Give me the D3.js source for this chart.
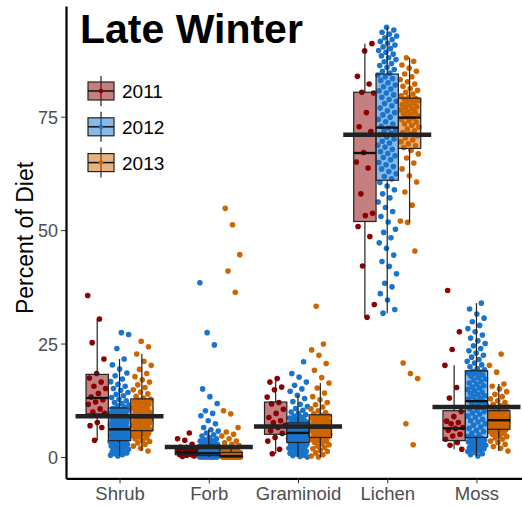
<!DOCTYPE html>
<html>
<head>
<meta charset="utf-8">
<script src="https://cdn.jsdelivr.net/npm/d3@7"></script>
<style>
  body { margin: 0; background: #fff; }
  svg { display: block; }
</style>
</head>
<body>
<div id="chart"></div>
<script>
const categories = ["Shrub", "Forb", "Graminoid", "Lichen", "Moss"];
const years = ["2011", "2012", "2013"];
const pointColors = ["#8B0000", "#1874CD", "#CD6600"];
const yTicks = [0, 25, 50, 75];

// percent of diet, one value per sample
const shrub2011 = [35.6, 30.4, 25.2, 21.6, 18.4, 17.4, 16.5, 15.6, 15.1, 14.0, 13.2, 12.6, 12.1, 11.6, 10.6, 9.9, 9.6, 7.6, 6.9, 6.5, 3.7];
const shrub2012 = [0.2, 0.4, 0.5, 0.7, 0.9, 1.1, 1.2, 1.4, 1.6, 1.7, 1.9, 2.0, 2.2, 2.3, 2.4, 2.4, 2.7, 2.8, 2.9, 3.0, 3.1, 3.1, 3.3, 3.4, 3.5,
  3.7, 3.8, 3.8, 4.0, 4.1, 4.2, 4.3, 4.4, 4.4, 4.6, 4.7, 4.8, 4.9, 5.0, 5.0, 5.2, 5.3, 5.3, 5.4, 5.5, 5.6, 5.7, 5.8, 5.9, 6.0,
  6.2, 6.4, 6.5, 6.7, 6.9, 7.0, 7.1, 7.3, 7.4, 7.6, 7.9, 8.0, 8.2, 8.5, 8.6, 8.9, 9.1, 9.3, 9.4, 9.7, 9.9, 10.1, 10.3, 10.5, 10.7,
  11.0, 11.3, 11.5, 11.8, 12.0, 12.4, 12.7, 13.1, 13.5, 13.8, 14.2, 14.7, 15.1, 15.6, 16.0, 16.6, 17.2, 17.9, 18.5, 19.4, 20.3, 21.6, 23.9, 27.0, 27.4];
const shrub2013 = [1.3, 1.9, 2.4, 2.8, 3.1, 3.4, 3.7, 4.0, 4.2, 4.4, 4.7, 4.9, 5.0, 5.2, 5.4, 5.6, 5.7,
  5.9, 6.0, 6.2, 6.4, 6.5, 6.7, 6.9, 7.0, 7.2, 7.4, 7.6, 7.8, 7.9, 8.1, 8.3, 8.4, 8.6, 8.7,
  8.9, 9.1, 9.3, 9.6, 9.8, 10.0, 10.2, 10.5, 10.7, 10.9, 11.2, 11.4, 11.6, 11.9, 12.1, 12.3, 12.5, 12.7,
  13.0, 13.4, 13.9, 14.3, 14.8, 15.3, 15.9, 16.5, 17.0, 17.7, 18.4, 19.3, 20.2, 21.1, 22.7, 24.3, 25.5];

const forb2011 = [0.1, 0.2, 0.4, 0.5, 0.5, 0.6, 0.8, 0.9, 1.0, 1.0, 1.1, 1.3, 1.5, 1.6, 1.7, 1.8, 2.2, 2.8, 3.7, 4.0, 5.3];
const forb2012 = [0, 0, 0, 0, 0, 0, 0, 0, 0, 0.1, 0.1, 0.1, 0.1, 0.2, 0.2, 0.2, 0.2, 0.2, 0.3, 0.3, 0.3, 0.3, 0.3, 0.4, 0.4,
  0.4, 0.5, 0.5, 0.5, 0.5, 0.5, 0.6, 0.6, 0.6, 0.6, 0.6, 0.7, 0.7, 0.7, 0.7, 0.7, 0.8, 0.8, 0.8, 0.9, 0.9, 1.0, 1.0, 1.1, 1.2,
  1.2, 1.3, 1.3, 1.4, 1.5, 1.6, 1.7, 1.8, 1.9, 2.0, 2.0, 2.1, 2.2, 2.3, 2.4, 2.5, 2.5, 2.6, 2.6, 2.7,
  2.8, 2.9, 3.0, 3.2, 3.3, 3.5, 3.6, 3.8, 4.0, 4.3, 4.6, 4.9, 5.3, 5.7, 6.0, 6.5, 7.3, 8.0, 9.1, 9.6, 10.2, 11.8, 13.3, 15.0, 24.7, 27.4, 38.4];
const forb2013 = [0, 0, 0, 0, 0, 0, 0, 0, 0, 0, 0, 0, 0, 0, 0, 0, 0, 0, 0.1, 0.1, 0.1, 0.1, 0.2, 0.2, 0.2, 0.2, 0.3, 0.3, 0.4, 0.4,
  0.5, 0.5, 0.6, 0.7, 0.8, 0.9, 1.0, 1.0, 1.1, 1.3, 1.4, 1.6, 1.7, 1.9, 2.1, 2.5, 2.8, 3.1, 3.5, 4.0, 4.6, 5.0, 5.5, 6.5,
  9.5, 10.2, 36.3, 41.0, 44.6, 51.2, 54.8];

const graminoid2011 = [17.3, 16.5, 15.4, 14.8, 13.2, 12.0, 11.7, 10.5, 9.6, 8.7, 8.0, 7.6, 7.0, 6.5, 5.8, 5.2, 4.3, 3.5, 1.7, 0.7];
const graminoid2012 = [0.0, 0.1, 0.3, 0.4, 0.6, 0.8, 0.9, 1.1, 1.2, 1.4, 1.5, 1.7, 1.8, 1.9, 2.0, 2.2, 2.3, 2.4, 2.5, 2.6, 2.7, 2.8, 2.9, 3.0, 3.1,
  3.3, 3.4, 3.5, 3.5, 3.6, 3.7, 3.8, 3.9, 4.0, 4.1, 4.2, 4.3, 4.3, 4.4, 4.5, 4.6, 4.7, 4.8, 4.9, 4.9, 5.0, 5.1, 5.1, 5.2, 5.3,
  5.4, 5.5, 5.5, 5.6, 5.7, 5.8, 5.9, 6.0, 6.1, 6.2, 6.3, 6.3, 6.4, 6.5, 6.6, 6.7, 6.8, 6.9, 7.0, 7.0, 7.1, 7.2, 7.3, 7.4, 7.5,
  7.6, 7.7, 7.9, 8.0, 8.2, 8.4, 8.6, 8.8, 9.0, 9.3, 9.6, 9.9, 10.3, 10.7, 11.1, 11.6, 12.2, 12.9, 13.6, 14.5, 15.0, 15.8, 16.5, 17.6, 18.4, 21.0];
const graminoid2013 = [0.0, 0.2, 0.5, 0.9, 1.2, 1.5, 1.8, 2.1, 2.4, 2.7, 2.9, 3.2, 3.4, 3.6, 3.8, 4.0, 4.2,
  4.4, 4.5, 4.6, 4.8, 4.9, 5.0, 5.2, 5.3, 5.4, 5.6, 5.7, 5.8, 5.9, 6.0, 6.1, 6.2, 6.3, 6.4,
  6.6, 6.7, 6.9, 7.0, 7.2, 7.4, 7.5, 7.7, 7.8, 8.0, 8.2, 8.3, 8.5, 8.6, 8.8, 8.9, 9.1, 9.2,
  9.5, 9.8, 10.2, 10.6, 11.0, 11.5, 12.0, 12.6, 13.3, 14.1, 15.2, 16.3, 17.5, 19.1, 20.6, 22.4, 23.6, 24.9, 33.2];

const lichen2011 = [91.1, 89.5, 83.9, 82.2, 80.4, 80.2, 75.9, 72.8, 71.7, 67.1, 65.0, 63.7, 58.0, 53.7, 53.2, 50.8, 48.6, 42.1, 33.6, 30.8];
const lichen2012 = [31.7, 32.5, 34.6, 36.0, 37.5, 38.3, 40.4, 42.0, 43.1, 44.5, 46.0, 47.2, 48.3, 49.5, 50.2, 51.8, 53.0, 54.1, 55.0, 56.2, 57.1, 58.0, 58.9, 59.7, 60.5,
  61.3, 61.8, 62.4, 62.9, 63.5, 64.0, 64.4, 64.9, 65.5, 66.0, 66.4, 66.9, 67.3, 67.8, 68.3, 68.7, 69.2, 69.6, 70.1, 70.5, 71.0, 71.4, 71.8, 72.1, 72.5,
  72.9, 73.4, 73.9, 74.4, 74.9, 75.4, 75.9, 76.3, 76.9, 77.4, 77.9, 78.4, 78.8, 79.3, 79.8, 80.2, 80.7, 81.1, 81.6, 82.0, 82.5, 83.0, 83.4, 83.8, 84.2,
  84.6, 85.0, 85.4, 85.9, 86.3, 86.7, 87.1, 87.6, 88.0, 88.4, 88.8, 89.2, 89.6, 90.0, 90.4, 90.8, 91.2, 91.6, 92.0, 92.4, 92.8, 93.2, 93.6, 94.1, 94.7];
const lichen2013 = [2.7, 7.3, 17.3, 18.4, 20.7, 45.4, 51.7, 52.0, 55.5, 58.4, 60.6, 62.0, 63.5, 64.8, 65.9, 66.8, 67.6,
  68.2, 68.6, 69.0, 69.5, 69.9, 70.3, 70.8, 71.2, 71.5, 71.9, 72.3, 72.7, 73.1, 73.4, 73.8, 74.1, 74.4, 74.7,
  75.0, 75.2, 75.5, 75.7, 76.0, 76.2, 76.5, 76.7, 77.0, 77.2, 77.5, 77.7, 78.0, 78.2, 78.5, 78.7, 78.9, 79.0,
  79.3, 79.6, 80.0, 80.4, 80.8, 81.2, 81.7, 82.2, 82.7, 83.2, 83.8, 84.4, 85.0, 85.7, 86.4, 87.2, 88.0];

const moss2011 = [36.7, 27.6, 23.7, 20.2, 15.3, 13.0, 10.0, 8.9, 7.9, 7.6, 7.3, 6.5, 6.3, 5.9, 5.0, 4.6, 3.9, 3.2, 2.6, 1.7];
const moss2012 = [0.2, 0.5, 0.7, 1.0, 1.2, 1.4, 1.6, 1.8, 2.0, 2.1, 2.3, 2.5, 2.6, 2.8, 2.9, 3.1, 3.2, 3.3, 3.5, 3.6, 3.7, 3.9, 4.0, 4.1, 4.2,
  4.5, 4.9, 5.2, 5.6, 5.9, 6.3, 6.6, 7.0, 7.3, 7.7, 8.0, 8.3, 8.7, 9.0, 9.4, 9.7, 10.0, 10.3, 10.6, 10.9, 11.2, 11.5, 11.8, 12.0, 12.2,
  12.5, 12.8, 13.0, 13.3, 13.5, 13.8, 14.1, 14.3, 14.6, 14.9, 15.2, 15.4, 15.7, 16.0, 16.3, 16.6, 16.9, 17.2, 17.5, 17.8, 18.0, 18.3, 18.5, 18.7, 18.9,
  19.2, 19.5, 19.9, 20.3, 20.7, 21.1, 21.5, 22.0, 22.4, 22.9, 23.4, 23.9, 24.5, 25.0, 25.6, 26.2, 26.9, 27.6, 28.3, 29.0, 29.8, 30.6, 31.5, 32.6, 33.9];
const moss2013 = [1.3, 1.9, 2.3, 2.8, 3.2, 3.5, 3.9, 4.2, 4.5, 4.7, 5.0, 5.2, 5.4, 5.6, 5.8, 5.9, 6.0,
  6.2, 6.3, 6.4, 6.5, 6.6, 6.8, 6.9, 7.0, 7.1, 7.2, 7.3, 7.4, 7.5, 7.6, 7.7, 7.8, 7.9, 8.0,
  8.2, 8.3, 8.4, 8.6, 8.7, 8.8, 8.9, 9.0, 9.2, 9.3, 9.4, 9.5, 9.6, 9.8, 9.9, 10.0, 10.1, 10.2,
  10.4, 10.7, 11.0, 11.3, 11.6, 12.0, 12.4, 12.8, 13.3, 13.8, 14.4, 15.0, 15.6, 16.1, 18.7, 20.2, 22.7];

// box stats per category: [whisker low, q1, median, q3, whisker high]
const box2011 = [[3.7, 9.5, 13.0, 18.2, 30.4], [0.1, 0.5, 1.0, 1.7, 2.8], [0.7, 5.0, 6.8, 12.1, 17.3], [30.8, 51.9, 67.0, 80.4, 91.1], [1.7, 3.6, 6.3, 10.2, 20.2]];
const box2012 = [[0.2, 3.6, 6.1, 10.8, 21.6], [0.0, 0.3, 0.8, 2.6, 6.0], [0.0, 3.2, 5.3, 7.5, 13.6], [31.7, 61.0, 72.6, 84.4, 94.7], [0.2, 4.3, 12.3, 19.0, 33.9]];
const box2013 = [[1.3, 5.8, 8.8, 12.8, 22.7], [0.0, 0.0, 0.2, 1.0, 2.1], [0.0, 4.3, 6.5, 9.3, 16.3], [51.7, 68.0, 74.8, 79.1, 88.0], [1.3, 6.1, 8.1, 10.2, 16.1]];
// median of all years together
const overallMedian = [9.0, 2.2, 6.7, 71.0, 11.0];

const points = [
  [shrub2011, forb2011, graminoid2011, lichen2011, moss2011],
  [shrub2012, forb2012, graminoid2012, lichen2012, moss2012],
  [shrub2013, forb2013, graminoid2013, lichen2013, moss2013]
];
const boxes = [box2011, box2012, box2013];

const width = 522, height = 506;
const font = "'Liberation Sans', Arial, sans-serif";

const svg = d3.select("#chart").append("svg")
    .attr("width", width)
    .attr("height", height);

const x = d3.scalePoint()
    .domain(categories)
    .range([66, 530])
    .padding(0.6);

const y = d3.scaleLinear()
    .domain([-4.7, 99.4])
    .range([478.3, 6]);

const dodge = d3.scaleBand()
    .domain(years)
    .range([-33.5, 33.5]);
const boxW = dodge.bandwidth();
const jitterW = 9.5;

// jittered points
points.forEach(function(yearSeries, yi) {
  yearSeries.forEach(function(vals, ci) {
    const cx = x(categories[ci]) + dodge(years[yi]) + boxW / 2;
    svg.append("g").selectAll("circle")
      .data(vals)
      .enter().append("circle")
      .attr("cx", function(d, i) { return cx + (((i * 0.618034 + ci * 0.29 + yi * 0.41) % 1) - 0.5) * 2 * jitterW; })
      .attr("cy", function(d) { return y(d); })
      .attr("r", 2.8)
      .attr("fill", pointColors[yi]);
  });
});

// boxplots
boxes.forEach(function(stats, yi) {
  stats.forEach(function(s, ci) {
    const x0 = x(categories[ci]) + dodge(years[yi]);
    const cx = x0 + boxW / 2;
    const g = svg.append("g");
    g.append("line")
      .attr("x1", cx).attr("x2", cx)
      .attr("y1", y(s[3])).attr("y2", y(s[4]))
      .attr("stroke", "#222").attr("stroke-width", 1.2);
    g.append("line")
      .attr("x1", cx).attr("x2", cx)
      .attr("y1", y(s[1])).attr("y2", y(s[0]))
      .attr("stroke", "#222").attr("stroke-width", 1.2);
    g.append("rect")
      .attr("x", x0).attr("width", boxW)
      .attr("y", y(s[3])).attr("height", Math.max(y(s[1]) - y(s[3]), 0.5))
      .attr("fill", pointColors[yi]).attr("fill-opacity", 0.5)
      .attr("stroke", "#222").attr("stroke-width", 1.2);
    g.append("line")
      .attr("x1", x0).attr("x2", x0 + boxW)
      .attr("y1", y(s[2])).attr("y2", y(s[2]))
      .attr("stroke", "#111").attr("stroke-width", 2.4);
  });
});

// overall median bars
svg.append("g").selectAll("line")
  .data(overallMedian)
  .enter().append("line")
  .attr("x1", function(d, i) { return x(categories[i]) - 44; })
  .attr("x2", function(d, i) { return x(categories[i]) + 44; })
  .attr("y1", function(d) { return y(d); })
  .attr("y2", function(d) { return y(d); })
  .attr("stroke", "#222")
  .attr("stroke-width", 4.5);

// axes
const yAxis = svg.append("g")
    .attr("transform", "translate(66,0)")
    .call(d3.axisLeft(y).tickValues(yTicks).tickSize(5).tickSizeOuter(0));
const xAxis = svg.append("g")
    .attr("transform", "translate(0,478.3)")
    .call(d3.axisBottom(x).tickSize(5).tickSizeOuter(0));

[yAxis, xAxis].forEach(function(a) {
  a.select(".domain").attr("stroke", "#000").attr("stroke-width", 2.2);
  a.selectAll(".tick line").attr("stroke", "#333").attr("stroke-width", 1);
  a.selectAll(".tick text").attr("fill", "#4d4d4d").attr("font-family", font);
});
yAxis.selectAll(".tick text").attr("font-size", "18px").attr("x", -8).attr("dy", "0.36em");
xAxis.selectAll(".tick text").attr("font-size", "18.5px").attr("y", 8).attr("dy", "0.76em");

svg.append("text")
    .attr("transform", "translate(33,238) rotate(-90)")
    .attr("text-anchor", "middle")
    .attr("font-family", font)
    .attr("font-size", "23px")
    .attr("fill", "#000")
    .text("Percent of Diet");

svg.append("text")
    .attr("x", 80)
    .attr("y", 43)
    .attr("font-family", font)
    .attr("font-weight", "bold")
    .attr("font-size", "41px")
    .attr("fill", "#000")
    .text("Late Winter");

// legend
const legend = svg.append("g").selectAll("g")
  .data(years)
  .enter().append("g")
  .attr("transform", function(d, i) { return "translate(101," + (91 + i * 35.8) + ")"; });

legend.append("line")
  .attr("x1", 0).attr("x2", 0).attr("y1", -15).attr("y2", 15)
  .attr("stroke", "#222").attr("stroke-width", 1.2);
legend.append("rect")
  .attr("x", -13).attr("y", -9).attr("width", 26).attr("height", 18)
  .attr("fill", function(d, i) { return pointColors[i]; })
  .attr("fill-opacity", 0.5)
  .attr("stroke", "#222").attr("stroke-width", 1.2);
legend.append("line")
  .attr("x1", -13).attr("x2", 13).attr("y1", 0).attr("y2", 0)
  .attr("stroke", "#111").attr("stroke-width", 1.5);
legend.append("circle")
  .attr("r", 2.3)
  .attr("fill", function(d, i) { return pointColors[i]; });
legend.append("text")
  .attr("x", 21)
  .attr("y", 7)
  .attr("font-family", font)
  .attr("font-size", "19px")
  .attr("fill", "#000")
  .text(function(d) { return d; });
</script>
</body>
</html>
